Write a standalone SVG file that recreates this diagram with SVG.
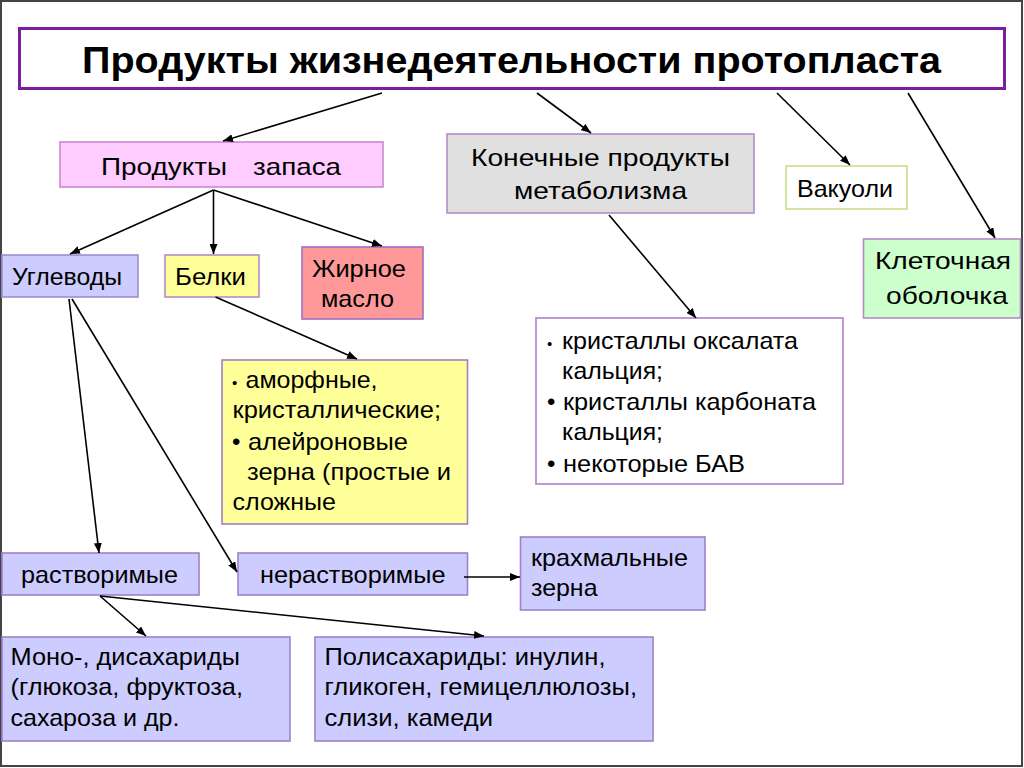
<svg xmlns="http://www.w3.org/2000/svg" width="1024" height="768" viewBox="0 0 1024 768">
<defs>
<marker id="ah" viewBox="0 0 10 8" refX="10" refY="4" markerWidth="10" markerHeight="8" markerUnits="userSpaceOnUse" orient="auto">
<path d="M0,0 L10,4 L0,8 z" fill="#000"/>
</marker>
<style>
.t{font-family:"Liberation Sans",Arial,sans-serif;font-size:24px;fill:#000;}
.b{stroke-width:1.6;}
.c line{stroke:#000;stroke-width:1.6;marker-end:url(#ah);}
</style>
</defs>
<rect x="0" y="0" width="1024" height="768" fill="#fff"/>
<rect x="1" y="1" width="1021" height="765" fill="none" stroke="#444" stroke-width="2"/>

<g id="title">
<rect x="19.5" y="28.5" width="985" height="60" fill="#fff" stroke="#7b1fa2" stroke-width="3"/>
<text class="t" x="82" y="73" style="font-size:36px;font-weight:bold" textLength="859" lengthAdjust="spacingAndGlyphs">Продукты жизнедеятельности протопласта</text>
</g>

<g id="zapas">
<rect class="b" x="60" y="142" width="323" height="45" fill="#ffccff" stroke="#cc88cc"/>
<text class="t" x="101" y="175" textLength="126" lengthAdjust="spacingAndGlyphs">Продукты</text>
<text class="t" x="253" y="175" textLength="88" lengthAdjust="spacingAndGlyphs">запаса</text>
</g>

<g id="konechnye">
<rect class="b" x="447" y="134" width="307" height="79" fill="#e0e0e0" stroke="#b08cc8"/>
<text class="t" x="471" y="166" textLength="259" lengthAdjust="spacingAndGlyphs">Конечные продукты</text>
<text class="t" x="514" y="199" textLength="173" lengthAdjust="spacingAndGlyphs">метаболизма</text>
</g>

<g id="vakuoli">
<rect class="b" x="786" y="166" width="121" height="43" fill="#fff" stroke="#ccdd88"/>
<text class="t" x="797" y="197" textLength="96" lengthAdjust="spacingAndGlyphs">Вакуоли</text>
</g>

<g id="obolochka">
<rect class="b" x="863.5" y="239" width="157" height="79" fill="#ccffcc" stroke="#b08cc8"/>
<text class="t" x="875" y="269" textLength="136" lengthAdjust="spacingAndGlyphs">Клеточная</text>
<text class="t" x="886" y="304" textLength="122" lengthAdjust="spacingAndGlyphs">оболочка</text>
</g>

<g id="uglevody">
<rect class="b" x="2" y="255" width="136" height="42" fill="#ccccff" stroke="#9f8fcf"/>
<text class="t" x="12" y="285" textLength="110" lengthAdjust="spacingAndGlyphs">Углеводы</text>
</g>

<g id="belki">
<rect class="b" x="165" y="255" width="94" height="42" fill="#ffff99" stroke="#b08cc8"/>
<text class="t" x="175" y="285" textLength="71" lengthAdjust="spacingAndGlyphs">Белки</text>
</g>

<g id="maslo">
<rect class="b" x="302" y="247" width="121" height="72" fill="#ff9999" stroke="#a070c0"/>
<text class="t" x="312" y="277" textLength="94" lengthAdjust="spacingAndGlyphs">Жирное</text>
<text class="t" x="321" y="307" textLength="73" lengthAdjust="spacingAndGlyphs">масло</text>
</g>

<g id="kristally">
<rect class="b" x="536" y="318" width="307" height="166" fill="#fff" stroke="#b080c8"/>
<text class="t" x="547" y="349" style="font-size:15px">•</text>
<text class="t" x="562" y="349" textLength="236" lengthAdjust="spacingAndGlyphs">кристаллы оксалата</text>
<text class="t" x="562" y="379" textLength="101" lengthAdjust="spacingAndGlyphs">кальция;</text>
<text class="t" x="547" y="410">•</text>
<text class="t" x="563" y="410" textLength="253" lengthAdjust="spacingAndGlyphs">кристаллы карбоната</text>
<text class="t" x="562" y="440" textLength="101" lengthAdjust="spacingAndGlyphs">кальция;</text>
<text class="t" x="547" y="472">•</text>
<text class="t" x="563" y="472" textLength="182" lengthAdjust="spacingAndGlyphs">некоторые БАВ</text>
</g>

<g id="belki-vidy">
<rect class="b" x="222" y="360" width="245.5" height="164" fill="#ffff99" stroke="#a080c0"/>
<text class="t" x="232" y="388" style="font-size:15px">•</text>
<text class="t" x="245.5" y="388" textLength="132" lengthAdjust="spacingAndGlyphs">аморфные,</text>
<text class="t" x="232.5" y="418" textLength="208.5" lengthAdjust="spacingAndGlyphs">кристаллические;</text>
<text class="t" x="232" y="450">•</text>
<text class="t" x="248" y="450" textLength="160" lengthAdjust="spacingAndGlyphs">алейроновые</text>
<text class="t" x="247" y="480" textLength="204" lengthAdjust="spacingAndGlyphs">зерна (простые и</text>
<text class="t" x="232.5" y="510" textLength="103.5" lengthAdjust="spacingAndGlyphs">сложные</text>
</g>

<g id="rastvorimye">
<rect class="b" x="2" y="553" width="197" height="42" fill="#ccccff" stroke="#a080c8"/>
<text class="t" x="21" y="583" textLength="157" lengthAdjust="spacingAndGlyphs">растворимые</text>
</g>

<g id="nerastvorimye">
<rect class="b" x="238" y="553" width="229.5" height="42" fill="#ccccff" stroke="#a080c8"/>
<text class="t" x="260" y="583" textLength="185.5" lengthAdjust="spacingAndGlyphs">нерастворимые</text>
</g>

<g id="krahmal">
<rect class="b" x="520.5" y="537" width="184.5" height="73" fill="#ccccff" stroke="#a080c8"/>
<text class="t" x="531" y="566" textLength="157" lengthAdjust="spacingAndGlyphs">крахмальные</text>
<text class="t" x="531" y="596" textLength="66.5" lengthAdjust="spacingAndGlyphs">зерна</text>
</g>

<g id="mono">
<rect class="b" x="2" y="637" width="288" height="104" fill="#ccccff" stroke="#a080c8"/>
<text class="t" x="10.5" y="665" textLength="229.5" lengthAdjust="spacingAndGlyphs">Моно-, дисахариды</text>
<text class="t" x="10.5" y="695" textLength="232.5" lengthAdjust="spacingAndGlyphs">(глюкоза, фруктоза,</text>
<text class="t" x="10.5" y="726" textLength="169" lengthAdjust="spacingAndGlyphs">сахароза и др.</text>
</g>

<g id="poli">
<rect class="b" x="315" y="637" width="338" height="104" fill="#ccccff" stroke="#a080c8"/>
<text class="t" x="324.5" y="665" textLength="281" lengthAdjust="spacingAndGlyphs">Полисахариды: инулин,</text>
<text class="t" x="324.5" y="695" textLength="312.5" lengthAdjust="spacingAndGlyphs">гликоген, гемицеллюлозы,</text>
<text class="t" x="324.5" y="726" textLength="168.5" lengthAdjust="spacingAndGlyphs">слизи, камеди</text>
</g>

<g id="connectors" class="c">
<line x1="382" y1="93" x2="223" y2="141"/>
<line x1="537" y1="93" x2="591" y2="133"/>
<line x1="777" y1="93" x2="850" y2="165"/>
<line x1="908" y1="93" x2="995" y2="238"/>
<line x1="213.5" y1="190" x2="70" y2="254"/>
<line x1="213.5" y1="190" x2="213.5" y2="254"/>
<line x1="213.5" y1="190" x2="382" y2="246"/>
<line x1="609" y1="215" x2="696" y2="318"/>
<line x1="215.5" y1="297" x2="357" y2="359"/>
<line x1="69" y1="299" x2="99" y2="553"/>
<line x1="72" y1="299" x2="237" y2="572"/>
<line x1="464" y1="577" x2="520" y2="577"/>
<line x1="100" y1="596" x2="146" y2="636"/>
<line x1="100" y1="596" x2="484" y2="636"/>
</g>
</svg>
